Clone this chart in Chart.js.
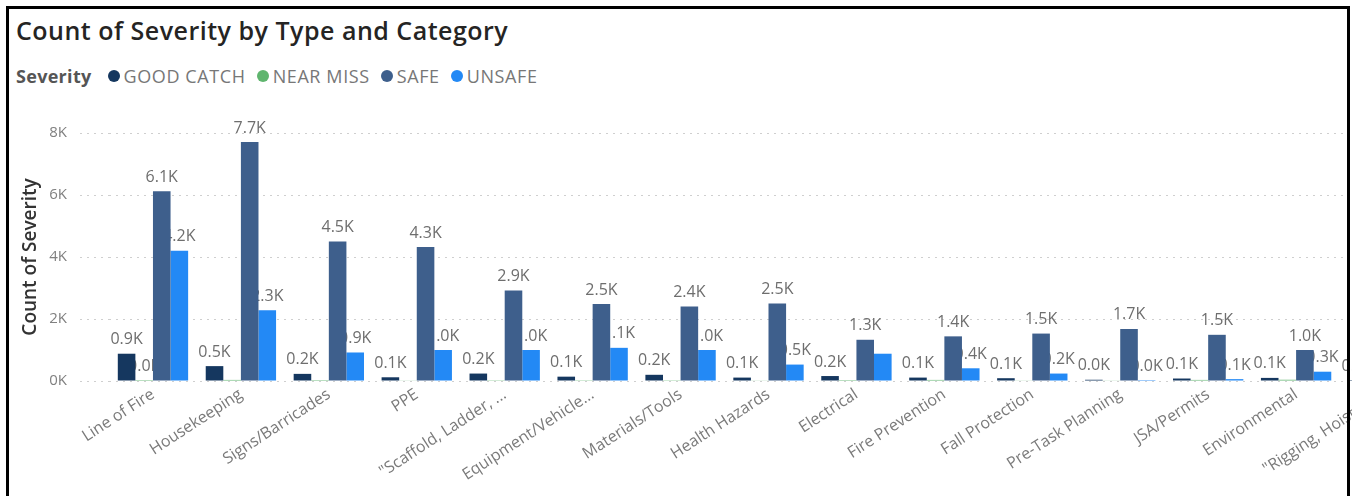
<!DOCTYPE html>
<html lang="en">
<head>
  <meta charset="UTF-8" />
  <title>Count of Severity by Type and Category</title>
  <script src="https://cdn.jsdelivr.net/npm/chart.js"></script>
  <style>
    html, body {
      margin: 0;
      width: 1352px;
      height: 496px;
      overflow: hidden;
      background: #fff;
      font-family: "Open Sans", sans-serif;
    }
    #frame {
      position: absolute;
      left: 6px;
      top: 6px;
      width: 1344px;
      height: 500px;
      box-sizing: border-box;
      border: 3px solid #000;
      border-bottom: none;
      pointer-events: none;
      z-index: 2;
    }
    #title {
      position: absolute;
      left: 16px;
      top: 13px;
      font-size: 25px;
      letter-spacing: 0.5px;
      font-weight: 600;
      color: #252423;
    }
    #legend {
      position: absolute;
      left: 16px;
      top: 64px;
      font-size: 18px;
      letter-spacing: 0.6px;
      color: #777;
      white-space: nowrap;
    }
    #legend b {
      color: #555;
      margin-right: 16px;
      letter-spacing: 0.3px;
    }
    #legend span.item {
      margin-right: 11px;
    }
    #legend i {
      display: inline-block;
      width: 12px;
      height: 12px;
      border-radius: 50%;
      margin-right: 4px;
      vertical-align: 1px;
    }
    #chartBox {
      position: absolute;
      left: 0;
      top: 90px;
      width: 1428px;
      height: 406px;
    }
  </style>
</head>
<body>
  <div id="frame"></div>
  <div id="title">Count of Severity by Type and Category</div>
  <div id="legend"></div>
  <div id="chartBox"><canvas id="severityChart"></canvas></div>

  <script>
    // data
    const categories = [
      'Line of Fire', 'Housekeeping', 'Signs/Barricades', 'PPE', '"Scaffold, Ladder, ...',
      'Equipment/Vehicle...', 'Materials/Tools', 'Health Hazards', 'Electrical',
      'Fire Prevention', 'Fall Protection', 'Pre-Task Planning', 'JSA/Permits',
      'Environmental', '"Rigging, Hoisting...'
    ];
    const severities = ['GOOD CATCH', 'NEAR MISS', 'SAFE', 'UNSAFE'];
    const severityColors = ['#15375f', '#5fb56e', '#3e5f8c', '#2389f5'];

    const goodCatch = [880, 480, 230, 120, 240, 140, 200, 110, 160, 110, 90, 40, 80, 100, 30];
    const nearMiss  = [30, 35, 30, 20, 25, 25, 25, 20, 30, 35, 20, 20, 35, 40, 20];
    const safe      = [6120, 7710, 4500, 4320, 2920, 2480, 2400, 2500, 1330, 1440, 1530, 1680, 1490, 1000, 900];
    const unsafe    = [4200, 2280, 920, 1000, 1000, 1070, 1000, 530, 880, 410, 240, 30, 60, 300, 200];

    const yTicks = [0, 2000, 4000, 6000, 8000];

    // legend in html, like the report
    const legend = document.getElementById('legend');
    legend.innerHTML = '<b>Severity</b>' + severities.map((s, i) =>
      '<span class="item"><i style="background:' + severityColors[i] + '"></i>' + s + '</span>'
    ).join('');

    function fmtK(v) {
      return (v / 1000).toFixed(1) + 'K';
    }

    // value labels, drawn under the bars and skipped when they bump into one already drawn
    const barLabels = {
      id: 'barLabels',
      beforeDatasetsDraw(chart) {
        const ctx = chart.ctx;
        const drawn = [];
        ctx.save();
        ctx.font = '16px "Open Sans"';
        ctx.fillStyle = '#6e6e6e';
        ctx.textAlign = 'center';
        ctx.textBaseline = 'bottom';
        categories.forEach((c, i) => {
          chart.data.datasets.forEach((ds, d) => {
            const bar = chart.getDatasetMeta(d).data[i];
            const text = fmtK(ds.data[i]);
            const w = ctx.measureText(text).width;
            const y = bar.y - 6;
            const box = { l: bar.x - w / 2 - 1, r: bar.x + w / 2 + 1, t: y - 16, b: y + 2 };
            const hit = drawn.some(o => o.l < box.r && box.l < o.r && o.t < box.b && box.t < o.b);
            if (hit) return;
            drawn.push(box);
            ctx.fillText(text, bar.x, y);
          });
        });
        ctx.restore();
      }
    };

    Chart.defaults.font.family = '"Open Sans", sans-serif';

    const seriesData = [goodCatch, nearMiss, safe, unsafe];

    new Chart(document.getElementById('severityChart'), {
      type: 'bar',
      data: {
        labels: categories,
        datasets: severities.map((s, i) => ({
          label: s,
          data: seriesData[i],
          backgroundColor: severityColors[i],
          categoryPercentage: 0.8,
          barPercentage: 1.0
        }))
      },
      options: {
        responsive: true,
        maintainAspectRatio: false,
        animation: false,
        layout: { padding: { top: 43, left: 0, right: 0, bottom: 0 } },
        plugins: {
          legend: { display: false },
          tooltip: { enabled: false }
        },
        scales: {
          x: {
            grid: { display: false, drawTicks: false },
            border: { display: false },
            ticks: {
              color: '#7a7a7a',
              font: { size: 16 },
              minRotation: 33,
              maxRotation: 33,
              padding: 4,
              autoSkip: false
            },
            afterFit: (scale) => { scale.height = 115; }
          },
          y: {
            min: 0,
            max: 8000,
            afterBuildTicks: (scale) => { scale.ticks = yTicks.map(v => ({ value: v })); },
            grid: {
              color: '#cfcfcf',
              tickColor: '#cfcfcf',
              tickLength: 29,
              tickBorderDash: [2, 5]
            },
            border: { display: false, dash: [2, 5] },
            ticks: {
              color: '#808080',
              font: { size: 15 },
              padding: 13,
              callback: (v) => (v / 1000) + 'K'
            },
            title: {
              display: true,
              text: 'Count of Severity',
              color: '#333',
              font: { size: 19, weight: '600' },
              padding: { top: 19, bottom: 0 }
            },
            afterFit: (scale) => { scale.width = 109; }
          }
        }
      },
      plugins: [barLabels]
    });
  </script>
</body>
</html>
